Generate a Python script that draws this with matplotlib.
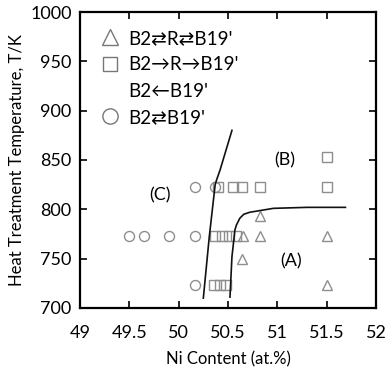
import numpy as np
import matplotlib
matplotlib.use('Agg')
import matplotlib.pyplot as plt
from matplotlib.lines import Line2D

plt.rcParams['font.family'] = ['Lato', 'DejaVu Sans']

# data
tri_ni = [50.65, 50.82, 51.5, 50.82, 50.64, 51.5]
tri_t = [773, 773, 773, 793, 750, 723]

sq_ni = [50.40, 50.55, 50.64, 50.82, 51.5, 51.5,
         50.37, 50.44, 50.51, 50.58,
         50.36, 50.42, 50.48]
sq_t = [823, 823, 823, 823, 823, 853,
        773, 773, 773, 773,
        723, 723, 723]

circ_ni = [49.5, 49.65, 49.9, 50.17, 50.17, 50.17, 50.37]
circ_t = [773, 773, 773, 773, 823, 723, 823]

# phase boundaries
bc_ni = [50.25, 50.31, 50.37, 50.385, 50.42, 50.54]
bc_t = [710, 772, 825, 830, 840, 880]

ab_ni = [50.52, 50.54, 50.57, 50.585, 50.62, 50.66, 50.72, 50.96, 51.30, 51.69]
ab_t = [711, 752, 779, 784, 791, 795, 797, 801, 802, 802]

region_labels = ['(A)', '(B)', '(C)']
region_ni = [51.14, 51.08, 49.81]
region_t = [747, 850, 814]

legend_labels = ["B2\u21c4R\u21c4B19'", "B2\u2192R\u2192B19'", "B2\u2190B19'", "B2\u21c4B19'"]

gray = '#8e8e8e'

fig = plt.figure(figsize=(3.87, 3.73), dpi=100)
ax = fig.add_axes([0.2067, 0.1743, 0.9716 - 0.2067, 0.9678 - 0.1743])

ax.plot(tri_ni, tri_t, ls='none', marker='^', ms=7.5, mfc='none', mec=gray, mew=1.0)
ax.plot(sq_ni, sq_t, ls='none', marker='s', ms=6.5, mfc='none', mec=gray, mew=1.0)
ax.plot(circ_ni, circ_t, ls='none', marker='o', ms=7.2, mfc='none', mec=gray, mew=1.0)

ax.plot(bc_ni, bc_t, color='#111111', lw=1.2)
ax.plot(ab_ni, ab_t, color='#111111', lw=1.2)

for lab, x, y in zip(region_labels, region_ni, region_t):
    ax.text(x, y, lab, fontsize=13, ha='center', va='center')

handles = [
    Line2D([], [], ls='none', marker='^', ms=11, mfc='none', mec='#777777', mew=1.0),
    Line2D([], [], ls='none', marker='s', ms=9.5, mfc='none', mec='#777777', mew=1.0),
    Line2D([], [], ls='none', marker='none'),
    Line2D([], [], ls='none', marker='o', ms=11, mfc='none', mec='#777777', mew=1.0),
]
ax.legend(handles, legend_labels, loc='upper left', bbox_to_anchor=(0.0696, 0.94),
          frameon=False, fontsize=13.5, borderaxespad=0, borderpad=0,
          handlelength=1.0, handletextpad=0.46, labelspacing=0.5)

ax.set_xlim(49, 52)
ax.set_ylim(700, 1000)
ax.set_xticks(np.arange(49, 52.01, 0.5))
ax.set_xticklabels(['49', '49.5', '50', '50.5', '51', '51.5', '52'])
ax.set_yticks(np.arange(700, 1001, 50))
ax.tick_params(direction='in', length=5, width=1.2, top=True, right=True,
               labelsize=13)
ax.tick_params(axis='x', pad=12)
ax.tick_params(axis='y', pad=6)
for s in ax.spines.values():
    s.set_linewidth(1.6)

ax.set_xlabel('Ni Content (at.%)', fontsize=12, labelpad=8)
ax.set_ylabel('Heat Treatment Temperature, T/K', fontsize=12, labelpad=4)

fig.savefig('out.png', dpi=100)
